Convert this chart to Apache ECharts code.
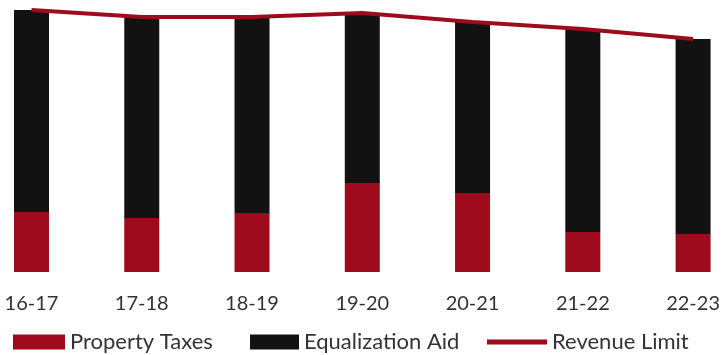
<!DOCTYPE html>
<html>
<head>
<meta charset="utf-8">
<script src="https://cdn.jsdelivr.net/npm/echarts@6/dist/echarts.min.js"></script>
<style>
  html, body { margin: 0; padding: 0; background: #fff; }
  #chart { width: 723px; height: 355px; }
</style>
</head>
<body>
<div id="chart"></div>
<script>
// School years
const years = ['16-17', '17-18', '18-19', '19-20', '20-21', '21-22', '22-23'];
// Funding sources ($ millions)
const propertyTaxes = [3.0, 2.7, 2.95, 4.45, 3.95, 2.0, 1.9];
const equalizationAid = [10.1, 10.05, 9.8, 8.5, 8.55, 10.15, 9.75];
// Total revenue limit ($ millions)
const revenueLimit = [13.1, 12.75, 12.75, 12.95, 12.5, 12.15, 11.65];

const RED = '#9e0b1d';
const BLACK = '#121212';
const FONT = 'Lato';

const legendText = { color: '#333', fontSize: 22, fontFamily: FONT };

const chart = echarts.init(document.getElementById('chart'));
chart.setOption({
  animation: false,
  textStyle: { fontFamily: FONT },
  grid: { left: 31.5, right: 27.5, top: 2, bottom: 83 },
  xAxis: {
    type: 'category',
    data: years,
    boundaryGap: false,
    axisLine: { show: false },
    axisTick: { show: false },
    axisLabel: { color: '#333', fontSize: 20, fontFamily: FONT, margin: 22 }
  },
  yAxis: {
    type: 'value',
    min: 0,
    max: 13.5,
    show: false
  },
  // one legend block per entry so each key can sit at its own offset
  legend: [
    {
      left: 8, top: 326, itemWidth: 52, itemHeight: 15,
      textStyle: legendText,
      data: [{ name: 'Property Taxes', icon: 'rect' }]
    },
    {
      left: 245, top: 326, itemWidth: 49, itemHeight: 15,
      textStyle: legendText,
      data: [{ name: 'Equalization Aid', icon: 'rect' }]
    },
    {
      left: 482, top: 326, itemWidth: 60, itemHeight: 15,
      textStyle: legendText,
      data: [{ name: 'Revenue Limit', icon: 'path://M0,0 L60,0 L60,5 L0,5 Z' }]
    }
  ],
  series: [
    {
      name: 'Property Taxes',
      type: 'bar',
      stack: 'total',
      barWidth: 35,
      itemStyle: { color: RED },
      data: propertyTaxes
    },
    {
      name: 'Equalization Aid',
      type: 'bar',
      stack: 'total',
      barWidth: 35,
      itemStyle: { color: BLACK },
      data: equalizationAid
    },
    {
      name: 'Revenue Limit',
      type: 'line',
      showSymbol: false,
      symbol: 'none',
      lineStyle: { color: RED, width: 4 },
      itemStyle: { color: RED },
      z: 5,
      data: revenueLimit
    }
  ]
});
</script>
</body>
</html>
